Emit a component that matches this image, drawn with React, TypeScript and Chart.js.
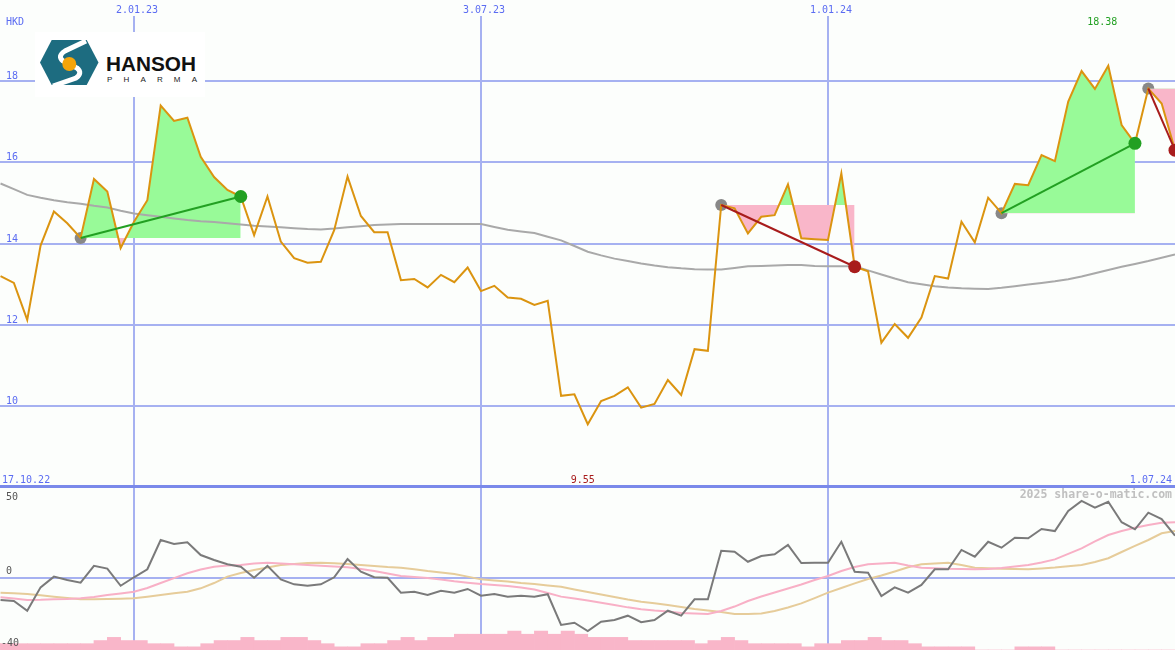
import React, { useEffect, useRef } from "react";
import { Chart, registerables } from "chart.js";

Chart.register(...registerables);

const W = 1175;
const H = 650;

// ---- labels / ticks ----
const topDateWeeks = [11, 37, 63];
const topDateLabels = ["2.01.23", "3.07.23", "1.01.24"];
const rangeLabels = ["17.10.22", "1.07.24"];
const priceTicks = [10, 12, 14, 16, 18];
const oscTicks = [50, 0, -40];
const currency = "HKD";
const watermark = "2025 share-o-matic.com";

// ---- weekly closing prices (week 1 .. 89) ----
const price = [
  13.2, 13.03, 12.12, 13.95, 14.79, 14.5, 14.14, 15.59, 15.28, 13.89,
  14.54, 15.07, 17.4, 17.02, 17.1, 16.14, 15.64, 15.32, 15.16, 14.21,
  15.16, 14.05, 13.64, 13.53, 13.55, 14.33, 15.65, 14.68, 14.28, 14.28,
  13.1, 13.13, 12.92, 13.23, 13.05, 13.41, 12.83, 12.96, 12.67, 12.64,
  12.49, 12.59, 10.25, 10.29, 9.55, 10.12, 10.25, 10.46, 9.96, 10.05,
  10.64, 10.27, 11.4, 11.36, 14.95, 14.87, 14.25, 14.66, 14.7, 15.46,
  14.13, 14.11, 14.09, 15.73, 13.43, 13.32, 11.56, 12.02, 11.68, 12.18,
  13.2, 13.14, 14.54, 14.03, 15.13, 14.75, 15.47, 15.44, 16.18, 16.03,
  17.5, 18.25, 17.81, 18.38, 16.92, 16.47, 17.82, 17.45, 16.3,
];

// ---- long moving average ----
const movingAvg = [
  15.48, 15.34, 15.2, 15.13, 15.07, 15.02, 14.98, 14.93, 14.89, 14.81,
  14.74, 14.7, 14.66, 14.62, 14.58, 14.55, 14.53, 14.5, 14.47, 14.44,
  14.42, 14.4, 14.38, 14.36, 14.35, 14.37, 14.4, 14.43, 14.46, 14.47,
  14.48, 14.48, 14.48, 14.48, 14.48, 14.48, 14.48, 14.41, 14.34, 14.3,
  14.26, 14.17, 14.08, 13.94, 13.8, 13.71, 13.63, 13.57, 13.51, 13.46,
  13.42, 13.39, 13.37, 13.36, 13.36, 13.4, 13.44, 13.45, 13.46, 13.47,
  13.47, 13.45, 13.44, 13.44, 13.44, 13.34, 13.24, 13.14, 13.05, 13.0,
  12.95, 12.92, 12.9, 12.89, 12.88, 12.91, 12.95, 12.99, 13.03, 13.07,
  13.12, 13.19, 13.27, 13.35, 13.43, 13.5, 13.57, 13.65, 13.73,
];

// ---- oscillator panel ----
const oscMain = [
  -14.0, -14.6, -20.7, -6.1, 0.6, -1.5, -3.2, 7.4, 5.6, -5.1,
  0.2, 5.2, 23.5, 21.0, 22.1, 14.1, 11.0, 8.3, 6.8, -0.1,
  7.4, -1.1, -4.2, -5.1, -4.2, 0.2, 11.6, 3.7, 0.2, -0.1,
  -9.4, -8.8, -10.9, -8.2, -9.4, -7.1, -11.3, -10.3, -11.9, -11.3,
  -11.9, -10.4, -29.6, -28.2, -33.4, -27.6, -26.5, -23.8, -27.9, -26.5,
  -20.7, -23.8, -13.6, -13.6, 16.8, 16.2, 9.9, 13.5, 14.6, 20.4,
  9.1, 9.3, 9.3, 22.4, 3.7, 3.1, -11.5, -6.1, -9.4, -4.6,
  5.2, 5.2, 17.3, 13.1, 22.4, 18.7, 24.9, 24.6, 30.4, 29.1,
  41.6, 47.9, 43.7, 47.4, 34.6, 30.2, 40.6, 36.6, 26.2,
];
const oscSignal = [
  -12.3, -13.1, -14.0, -13.9, -13.6, -13.4, -12.9, -12.1, -10.9, -9.9,
  -8.8, -6.5, -3.4, -0.3, 2.7, 5.1, 6.8, 7.6, 7.9, 8.8,
  9.3, 8.8, 8.3, 7.9, 7.4, 6.9, 6.4, 5.4, 4.1, 2.6,
  1.0, 0.4, -0.3, -1.2, -2.3, -3.2, -4.0, -4.6, -5.3, -6.2,
  -7.4, -9.6, -11.9, -13.1, -14.3, -15.7, -17.1, -18.6, -19.8, -20.6,
  -21.2, -22.1, -22.4, -22.8, -20.9, -18.1, -14.6, -11.8, -9.3, -6.8,
  -4.3, -1.5, 1.0, 4.1, 6.6, 8.3, 8.8, 9.3, 7.6, 6.2,
  5.8, 5.5, 5.4, 5.2, 5.3, 6.0, 6.9, 7.9, 9.4, 11.4,
  14.8, 18.3, 22.6, 26.6, 29.1, 31.2, 32.9, 34.3, 34.6,
];
const oscSlow = [
  -9.4, -9.8, -10.3, -11.1, -11.9, -12.8, -13.6, -13.5, -13.4, -13.2,
  -12.9, -11.9, -10.9, -9.8, -8.8, -6.7, -3.4, 0.6, 2.9, 4.8,
  6.3, 7.9, 8.5, 9.1, 9.3, 8.9, 8.5, 7.9, 7.3, 6.6,
  6.2, 5.2, 4.1, 3.2, 2.3, 0.6, -1.1, -1.8, -2.4, -3.4,
  -4.0, -4.9, -5.7, -7.4, -9.0, -10.6, -12.1, -13.7, -15.1, -16.1,
  -17.1, -18.4, -19.6, -20.6, -21.5, -22.8, -22.8, -22.4, -20.9, -18.7,
  -16.1, -12.8, -9.4, -6.5, -3.6, -0.9, 1.3, 3.8, 6.5, 8.3,
  8.8, 9.3, 7.9, 6.2, 5.8, 5.5, 5.4, 5.2, 5.7, 6.3,
  7.1, 7.9, 9.8, 12.1, 16.0, 19.8, 23.5, 27.7, 29.1,
];
// weekly volume blocks (interval k .. k+1)
const volume = [
  2, 2, 2, 2, 2, 2, 2, 2, 3, 4,
  3, 3, 2, 2, 1, 1, 2, 3, 3, 4,
  3, 3, 4, 4, 3, 2, 1, 1, 2, 2,
  3, 4, 3, 4, 4, 5, 5, 5, 5, 6,
  5, 6, 5, 6, 5, 4, 4, 4, 3, 3,
  3, 3, 3, 2, 3, 4, 3, 2, 2, 2,
  2, 1, 2, 2, 3, 3, 4, 3, 3, 2,
  1, 1, 1, 1, 0, 0, 0, 1, 1, 1,
  0, 0, 0, 0, 0, 0, 0, 0, 0,
];

// ---- trade signals (week numbers) ----
const signalStarts = [7, 55, 76, 87];
const signalEnds = [19, 65, 86, 89];
const signalDirs = ["up", "down", "up", "down"];

// ---- colours ----
const BG = "#fcfefc";
const GRID = "#a6b1f1";
const SEP = "#7a89ea";
const BLUE_TXT = "#5b6cf2";
const ORANGE = "#db9410";
const MA_GRAY = "#a9a9a9";
const GREEN_FILL = "#98fa98";
const PINK_FILL = "#f9b6c9";
const UP_GREEN = "#22a022";
const DOWN_RED = "#a81c1c";
const OSC_GRAY = "#7a7a7a";
const OSC_PINK = "#f8b0c6";
const OSC_TAN = "#e6cc9a";

const toPts = (arr: number[]) => arr.map((v, i) => ({ x: i + 1, y: v }));

const decorPlugin = {
  id: "decor",
  beforeDatasetsDraw(chart: any) {
    const { ctx } = chart;
    const x = chart.scales.x;
    const y = chart.scales.y;
    const yo = chart.scales.yOsc;
    ctx.save();
    ctx.lineWidth = 2;
    ctx.strokeStyle = GRID;
    priceTicks.forEach((v) => {
      const py = Math.round(y.getPixelForValue(v));
      ctx.beginPath();
      ctx.moveTo(0, py);
      ctx.lineTo(W, py);
      ctx.stroke();
    });
    topDateWeeks.forEach((w) => {
      const px = Math.round(x.getPixelForValue(w));
      ctx.beginPath();
      ctx.moveTo(px, 16);
      ctx.lineTo(px, H);
      ctx.stroke();
    });
    const zy = Math.round(yo.getPixelForValue(0));
    ctx.beginPath();
    ctx.moveTo(0, zy);
    ctx.lineTo(W, zy);
    ctx.stroke();
    // panel separator at bottom of price range
    const sy = y.getPixelForValue(8);
    ctx.strokeStyle = SEP;
    ctx.lineWidth = 3;
    ctx.beginPath();
    ctx.moveTo(0, Math.round(sy) - 0.5);
    ctx.lineTo(W, Math.round(sy) - 0.5);
    ctx.stroke();
    ctx.restore();
  },
  afterDraw(chart: any) {
    const { ctx } = chart;
    const x = chart.scales.x;
    const y = chart.scales.y;
    const yo = chart.scales.yOsc;
    ctx.save();
    ctx.textBaseline = "alphabetic";
    ctx.font = '10px "DejaVu Sans Mono", monospace';
    ctx.fillStyle = BLUE_TXT;
    ctx.textAlign = "center";
    topDateWeeks.forEach((w, i) => {
      ctx.fillText(topDateLabels[i], x.getPixelForValue(w) + 3, 13);
    });
    ctx.textAlign = "left";
    ctx.fillText(currency, 6, 25);
    priceTicks.forEach((v) => {
      ctx.fillText(String(v), 6, Math.round(y.getPixelForValue(v)) - 2);
    });
    const sepY = Math.round(y.getPixelForValue(8));
    ctx.fillText(rangeLabels[0], 2, sepY - 4);
    ctx.textAlign = "right";
    ctx.fillText(rangeLabels[1], W - 3, sepY - 4);

    // max / min labels
    let iMax = 0;
    let iMin = 0;
    price.forEach((v, i) => {
      if (v > price[iMax]) iMax = i;
      if (v < price[iMin]) iMin = i;
    });
    ctx.textAlign = "center";
    ctx.fillStyle = UP_GREEN;
    ctx.fillText(price[iMax].toFixed(2), x.getPixelForValue(iMax + 1) - 6, 25);
    ctx.fillStyle = DOWN_RED;
    ctx.fillText(price[iMin].toFixed(2), x.getPixelForValue(iMin + 1) - 5, sepY - 4);

    // oscillator labels
    ctx.textAlign = "left";
    ctx.fillStyle = "#555555";
    const offs = [2.5, -3.5, 4.5];
    oscTicks.forEach((v, i) => {
      ctx.fillText(String(v), v < 0 ? 1 : 6, Math.round(yo.getPixelForValue(v) + offs[i]));
    });

    // watermark
    ctx.textAlign = "right";
    ctx.fillStyle = "#c0c0c0";
    ctx.font = 'bold 11.5px "DejaVu Sans Mono", monospace';
    ctx.fillText(watermark, W - 3, sepY + 11);
    ctx.restore();
  },
};

function buildDatasets() {
  const ds: any[] = [];
  ds.push({
    type: "bar",
    data: volume.map((v, k) => ({ x: k + 0.5, y: v })),
    yAxisID: "yVol",
    backgroundColor: PINK_FILL,
    borderWidth: 0,
    barPercentage: 1,
    categoryPercentage: 1,
    order: 12,
  });
  const oscLine = (arr: number[], color: string, order: number) => ({
    type: "line",
    data: toPts(arr),
    yAxisID: "yOsc",
    borderColor: color,
    borderWidth: 2,
    pointRadius: 0,
    tension: 0,
    fill: false,
    order,
  });
  ds.push(oscLine(oscSlow, OSC_TAN, 11));
  ds.push(oscLine(oscSignal, OSC_PINK, 10));
  ds.push(oscLine(oscMain, OSC_GRAY, 9));

  // start markers
  ds.push({
    type: "line",
    data: signalStarts.map((s) => ({ x: s, y: price[s - 1] })),
    yAxisID: "y",
    showLine: false,
    pointRadius: 6,
    pointBackgroundColor: "#888888",
    pointBorderWidth: 0,
    order: 8,
  });
  // signal fills
  signalStarts.forEach((s, i) => {
    const base = price[s - 1];
    ds.push({
      type: "line",
      data: toPts(price).slice(s - 1, signalEnds[i]),
      yAxisID: "y",
      borderWidth: 0,
      borderColor: "rgba(0,0,0,0)",
      pointRadius: 0,
      tension: 0,
      fill: { target: { value: base }, above: GREEN_FILL, below: PINK_FILL },
      order: 7,
    });
  });
  // moving average
  ds.push({
    type: "line",
    data: toPts(movingAvg),
    yAxisID: "y",
    borderColor: MA_GRAY,
    borderWidth: 2,
    pointRadius: 0,
    tension: 0,
    fill: false,
    order: 6,
  });
  // price
  ds.push({
    type: "line",
    data: toPts(price),
    yAxisID: "y",
    borderColor: ORANGE,
    borderWidth: 2,
    pointRadius: 0,
    tension: 0,
    fill: false,
    order: 5,
  });
  // connectors + end markers
  signalStarts.forEach((s, i) => {
    const e = signalEnds[i];
    const col = signalDirs[i] === "up" ? UP_GREEN : DOWN_RED;
    ds.push({
      type: "line",
      data: [
        { x: s, y: price[s - 1] },
        { x: e, y: price[e - 1] },
      ],
      yAxisID: "y",
      borderColor: col,
      borderWidth: 2,
      pointRadius: 0,
      fill: false,
      order: 4,
    });
    ds.push({
      type: "line",
      data: [{ x: e, y: price[e - 1] }],
      yAxisID: "y",
      showLine: false,
      pointRadius: 6.5,
      pointBackgroundColor: col,
      pointBorderWidth: 0,
      order: 3,
    });
  });
  return ds;
}

export default function App() {
  const ref = useRef<HTMLCanvasElement | null>(null);

  useEffect(() => {
    if (!ref.current) return;
    const chart = new Chart(ref.current, {
      type: "line",
      data: { datasets: buildDatasets() },
      options: {
        responsive: false,
        maintainAspectRatio: false,
        animation: false,
        events: [],
        layout: { padding: 0, autoPadding: false },
        plugins: {
          legend: { display: false },
          tooltip: { enabled: false },
        },
        scales: {
          x: { type: "linear", min: 0.96, max: 89, display: false, offset: false },
          y: { type: "linear", min: 3.99, max: 20, display: false },
          yOsc: { type: "linear", min: -45.25, max: 361, display: false },
          yVol: { type: "linear", min: 0, max: 206, display: false },
        },
      } as any,
      plugins: [decorPlugin],
    } as any);
    return () => chart.destroy();
  }, []);

  return (
    <div
      style={{
        position: "fixed",
        left: 0,
        top: 0,
        width: W,
        height: H,
        background: BG,
        overflow: "hidden",
      }}
    >
      <canvas
        ref={ref}
        width={W}
        height={H}
        style={{ position: "absolute", left: 0, top: 0, width: W, height: H }}
      />
      <svg
        width={W}
        height={H}
        style={{ position: "absolute", left: 0, top: 0, pointerEvents: "none" }}
      >
        <rect x={35} y={32} width={170} height={65} fill="#ffffff" />
        <polygon points="40,62.5 51.7,40 86.7,40 98.5,62.5 86.7,85 51.7,85" fill="#1d6c80" />
        <path
          d="M86 41 L65 51 Q57 56 63 61 L77 68 Q83 73 76 78 L53 86"
          stroke="#ffffff"
          strokeWidth={5}
          fill="none"
        />
        <circle cx={69.3} cy={64} r={7} fill="#f5a50a" />
        <text
          x={106}
          y={70.5}
          fontFamily="Liberation Sans, Arial, sans-serif"
          fontWeight="bold"
          fontSize={19.5}
          textLength={90}
          lengthAdjust="spacingAndGlyphs"
          fill="#111111"
        >
          HANSOH
        </text>
        <text
          x={107}
          y={81.7}
          fontFamily="Liberation Sans, Arial, sans-serif"
          fontSize={8}
          textLength={90}
          lengthAdjust="spacing"
          fill="#222222"
        >
          PHARMA
        </text>
      </svg>
    </div>
  );
}
